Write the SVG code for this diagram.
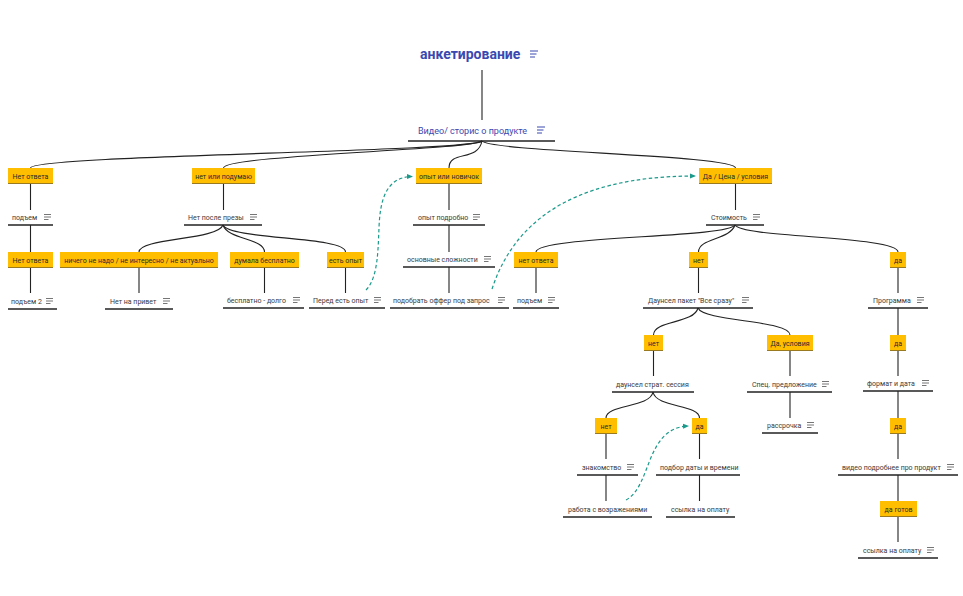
<svg xmlns="http://www.w3.org/2000/svg" width="963" height="596" viewBox="0 0 963 596">
<style>
.t{font-family:Roboto,"Liberation Sans",sans-serif;font-size:7px;fill:#3a3a3a}
.bt{font-family:Roboto,"Liberation Sans",sans-serif;font-size:7px;fill:#2a2a2a;text-anchor:middle}
.title{font-family:Roboto,"Liberation Sans",sans-serif;font-size:14px;font-weight:bold;fill:#3a48b0}
.sub{font-family:Roboto,"Liberation Sans",sans-serif;font-size:9px;fill:#3a48b0}
.ul{stroke:#222;stroke-width:1.3}
.box{fill:#ffbf00}
.bb{stroke:#9a7a20;stroke-width:1}
.c path,.c line{fill:none;stroke:#222;stroke-width:1.1}
.d path{fill:none;stroke:#1b9a8b;stroke-width:1.2;stroke-dasharray:3.5 2.5}
</style>
<defs>
<symbol id="ic" overflow="visible"><path d="M0,-2.5h7M0,0h7M0,2.5h4.5" stroke="#666" stroke-width="0.9" fill="none"/></symbol>
<symbol id="icb" overflow="visible"><path d="M0,-3h8M0,0h6.5M0,3h5" stroke="#3a48b0" stroke-width="1" fill="none"/></symbol>
<marker id="ar" viewBox="0 0 6 6" refX="5" refY="3" markerWidth="6" markerHeight="6" orient="auto" markerUnits="userSpaceOnUse"><path d="M0,0.5L6,3L0,5.5z" fill="#1b9a8b"/></marker>
</defs>

<g id="connectors" class="c">
<line x1="482" y1="70" x2="482" y2="120"/>
<path d="M482,141 C470,152 30,155 30.5,168"/>
<path d="M482,141 C472,150 224,155 223.5,168"/>
<path d="M482,141 C478,162 449,150 449,168"/>
<path d="M482,141 C492,152 736,155 735.5,168"/>
<line x1="30.5" y1="184" x2="30.5" y2="210"/>
<line x1="30.5" y1="225" x2="30.5" y2="252"/>
<line x1="30.5" y1="268" x2="30.5" y2="293"/>
<line x1="223.5" y1="184" x2="223.5" y2="210"/>
<path d="M223,225 C218,240 139,238 139,252"/>
<path d="M223,225 C228,240 264.5,238 264.5,252"/>
<path d="M223,225 C230,240 345.5,236 345.5,252"/>
<line x1="139" y1="268" x2="139" y2="293"/>
<line x1="264.5" y1="268" x2="264.5" y2="293"/>
<line x1="345.5" y1="268" x2="345.5" y2="293"/>
<line x1="449" y1="184" x2="449" y2="210"/>
<line x1="449" y1="225" x2="449" y2="252"/>
<line x1="449" y1="267" x2="449" y2="293"/>
<line x1="735.5" y1="184" x2="735.5" y2="210"/>
<path d="M735,225 C728,238 536,236 536,252"/>
<path d="M735,225 C730,240 698.5,238 698.5,252"/>
<path d="M735,225 C742,238 898,236 898,252"/>
<line x1="536" y1="268" x2="536" y2="293"/>
<line x1="698.5" y1="268" x2="698.5" y2="293"/>
<line x1="898" y1="268" x2="898" y2="293"/>
<path d="M698,308 C694,324 653.5,320 653.5,335"/>
<path d="M698,308 C704,322 790,320 790,335"/>
<line x1="653.5" y1="351" x2="653.5" y2="376"/>
<line x1="790" y1="351" x2="790" y2="376"/>
<path d="M653,392 C650,408 606,404 606,418"/>
<path d="M653,392 C656,408 699.5,404 699.5,418"/>
<line x1="790" y1="392" x2="790" y2="418"/>
<line x1="606" y1="434" x2="606" y2="459"/>
<line x1="606" y1="475" x2="606" y2="501"/>
<line x1="699.5" y1="434" x2="699.5" y2="459"/>
<line x1="699.5" y1="475" x2="699.5" y2="501"/>
<line x1="898" y1="308" x2="898" y2="335"/>
<line x1="898" y1="351" x2="898" y2="376"/>
<line x1="898" y1="391" x2="898" y2="418"/>
<line x1="898" y1="434" x2="898" y2="459"/>
<line x1="898" y1="475" x2="898" y2="501"/>
<line x1="898" y1="517" x2="898" y2="542"/>
</g>

<g id="dashed" class="d">
<path d="M366,290 C378,278 378,250 379,228 C380,200 386,177 412,176.5" marker-end="url(#ar)"/>
<path d="M492,289 C512,228 565,176 695,176" marker-end="url(#ar)"/>
<path d="M626,500 C652,486 645,428 688,426" marker-end="url(#ar)"/>
</g>

<g id="n-root"><text class="title" x="420" y="59">анкетирование</text><use href="#icb" x="530" y="54"/></g>
<g id="n-video"><text class="sub" x="418" y="133.5">Видео/ сторис о продукте</text><use href="#icb" x="537" y="130"/><line class="ul" x1="408" y1="141" x2="555" y2="141"/></g>

<g id="b1"><rect class="box" x="8" y="168" width="45" height="16"/><line class="bb" x1="8" y1="183.5" x2="53" y2="183.5"/><text class="bt" x="30.5" y="178.5">Нет ответа</text></g>
<g id="b2"><rect class="box" x="192" y="168" width="63" height="16"/><line class="bb" x1="192" y1="183.5" x2="255" y2="183.5"/><text class="bt" x="223.5" y="178.5">нет или подумаю</text></g>
<g id="b3"><rect class="box" x="416" y="168" width="66" height="16"/><line class="bb" x1="416" y1="183.5" x2="482" y2="183.5"/><text class="bt" x="449" y="178.5">опыт или новичок</text></g>
<g id="b4"><rect class="box" x="699" y="168" width="73" height="16"/><line class="bb" x1="699" y1="183.5" x2="772" y2="183.5"/><text class="bt" x="735.5" y="178.5">Да / Цена / условия</text></g>
<g id="b5"><rect class="box" x="8" y="252" width="45" height="16"/><line class="bb" x1="8" y1="267.5" x2="53" y2="267.5"/><text class="bt" x="30.5" y="262.5">Нет ответа</text></g>
<g id="b6"><rect class="box" x="60" y="252" width="158" height="16"/><line class="bb" x1="60" y1="267.5" x2="218" y2="267.5"/><text class="bt" x="139" y="262.5">ничего не надо / не интересно / не актуально</text></g>
<g id="b7"><rect class="box" x="230" y="252" width="69" height="16"/><line class="bb" x1="230" y1="267.5" x2="299" y2="267.5"/><text class="bt" x="264.5" y="262.5">думала бесплатно</text></g>
<g id="b8"><rect class="box" x="327" y="252" width="37" height="16"/><line class="bb" x1="327" y1="267.5" x2="364" y2="267.5"/><text class="bt" x="345.5" y="262.5">есть опыт</text></g>
<g id="b9"><rect class="box" x="514" y="252" width="44" height="16"/><line class="bb" x1="514" y1="267.5" x2="558" y2="267.5"/><text class="bt" x="536" y="262.5">нет ответа</text></g>
<g id="b10"><rect class="box" x="689" y="252" width="19" height="16"/><line class="bb" x1="689" y1="267.5" x2="708" y2="267.5"/><text class="bt" x="698.5" y="262.5">нет</text></g>
<g id="b11"><rect class="box" x="890" y="252" width="16" height="16"/><line class="bb" x1="890" y1="267.5" x2="906" y2="267.5"/><text class="bt" x="898" y="262.5">да</text></g>
<g id="b12"><rect class="box" x="644" y="335" width="19" height="16"/><line class="bb" x1="644" y1="350.5" x2="663" y2="350.5"/><text class="bt" x="653.5" y="345.5">нет</text></g>
<g id="b13"><rect class="box" x="767" y="335" width="46" height="16"/><line class="bb" x1="767" y1="350.5" x2="813" y2="350.5"/><text class="bt" x="790" y="345.5">Да, условия</text></g>
<g id="b14"><rect class="box" x="890" y="335" width="16" height="16"/><line class="bb" x1="890" y1="350.5" x2="906" y2="350.5"/><text class="bt" x="898" y="345.5">да</text></g>
<g id="b15"><rect class="box" x="595" y="418" width="22" height="16"/><line class="bb" x1="595" y1="433.5" x2="617" y2="433.5"/><text class="bt" x="606" y="428.5">нет</text></g>
<g id="b16"><rect class="box" x="692" y="418" width="15" height="16"/><line class="bb" x1="692" y1="433.5" x2="707" y2="433.5"/><text class="bt" x="699.5" y="428.5">да</text></g>
<g id="b17"><rect class="box" x="890" y="418" width="16" height="16"/><line class="bb" x1="890" y1="433.5" x2="906" y2="433.5"/><text class="bt" x="898" y="428.5">да</text></g>
<g id="b18"><rect class="box" x="880" y="501" width="37" height="16"/><line class="bb" x1="880" y1="516.5" x2="917" y2="516.5"/><text class="bt" x="898.5" y="511.5">да готов</text></g>

<g id="t1"><text class="t" x="12" y="219.5">подъем</text><use href="#ic" x="44" y="217"/><line class="ul" x1="8" y1="225" x2="53" y2="225"/></g>
<g id="t2"><text class="t" x="11" y="303.5">подъем 2</text><use href="#ic" x="46" y="301"/><line class="ul" x1="8" y1="309" x2="57" y2="309"/></g>
<g id="t3"><text class="t" x="188" y="219.5">Нет после презы</text><use href="#ic" x="250" y="217"/><line class="ul" x1="184" y1="225" x2="262" y2="225"/></g>
<g id="t4"><text class="t" x="110" y="303.5">Нет на привет</text><use href="#ic" x="163" y="301"/><line class="ul" x1="105" y1="309" x2="173" y2="309"/></g>
<g id="t5"><text class="t" x="227" y="302.5">бесплатно - долго</text><use href="#ic" x="293" y="300"/><line class="ul" x1="223" y1="308" x2="304" y2="308"/></g>
<g id="t6"><text class="t" x="313" y="302.5">Перед есть опыт</text><use href="#ic" x="374" y="300"/><line class="ul" x1="309" y1="308" x2="385" y2="308"/></g>
<g id="t7"><text class="t" x="418" y="219.5">опыт подробно</text><use href="#ic" x="473" y="217"/><line class="ul" x1="413" y1="225" x2="485" y2="225"/></g>
<g id="t8"><text class="t" x="407" y="261.5">основные сложности</text><use href="#ic" x="484" y="259"/><line class="ul" x1="403" y1="267" x2="495" y2="267"/></g>
<g id="t9"><text class="t" x="393" y="302.5">подобрать оффер под запрос</text><use href="#ic" x="498" y="300"/><line class="ul" x1="390" y1="308" x2="509" y2="308"/></g>
<g id="t10"><text class="t" x="517" y="302.5">подъем</text><use href="#ic" x="548" y="300"/><line class="ul" x1="513" y1="308" x2="559" y2="308"/></g>
<g id="t11"><text class="t" x="648" y="302.5">Даунсел пакет "Все сразу"</text><use href="#ic" x="742" y="300"/><line class="ul" x1="643" y1="308" x2="753" y2="308"/></g>
<g id="t12"><text class="t" x="711" y="219.5">Стоимость</text><use href="#ic" x="753" y="217"/><line class="ul" x1="706" y1="225" x2="764" y2="225"/></g>
<g id="t13"><text class="t" x="873" y="302.5">Программа</text><use href="#ic" x="917" y="300"/><line class="ul" x1="868" y1="308" x2="928" y2="308"/></g>
<g id="t14"><text class="t" x="616" y="386.5">даунсел страт. сессия</text><line class="ul" x1="612" y1="392" x2="694" y2="392"/></g>
<g id="t15"><text class="t" x="752" y="386.5">Спец. предложение</text><use href="#ic" x="822" y="384"/><line class="ul" x1="747" y1="392" x2="832" y2="392"/></g>
<g id="t16"><text class="t" x="767" y="427.5">рассрочка</text><use href="#ic" x="807" y="425"/><line class="ul" x1="762" y1="433" x2="818" y2="433"/></g>
<g id="t17"><text class="t" x="582" y="469.5">знакомство</text><use href="#ic" x="627" y="467"/><line class="ul" x1="577" y1="475" x2="638" y2="475"/></g>
<g id="t18"><text class="t" x="660" y="469.5">подбор даты и времени</text><line class="ul" x1="656" y1="475" x2="740" y2="475"/></g>
<g id="t19"><text class="t" x="568" y="511.5">работа с возражениями</text><line class="ul" x1="563" y1="517" x2="652" y2="517"/></g>
<g id="t20"><text class="t" x="671" y="511.5">ссылка на оплату</text><line class="ul" x1="666" y1="517" x2="735" y2="517"/></g>
<g id="t21"><text class="t" x="867" y="385.5">формат и дата</text><use href="#ic" x="922" y="383"/><line class="ul" x1="863" y1="391" x2="933" y2="391"/></g>
<g id="t22"><text class="t" x="842" y="469.5">видео подробнее про продукт</text><use href="#ic" x="947" y="467"/><line class="ul" x1="838" y1="475" x2="958" y2="475"/></g>
<g id="t23"><text class="t" x="863" y="552.5">ссылка на оплату</text><use href="#ic" x="927" y="550"/><line class="ul" x1="858" y1="558" x2="938" y2="558"/></g>
</svg>
